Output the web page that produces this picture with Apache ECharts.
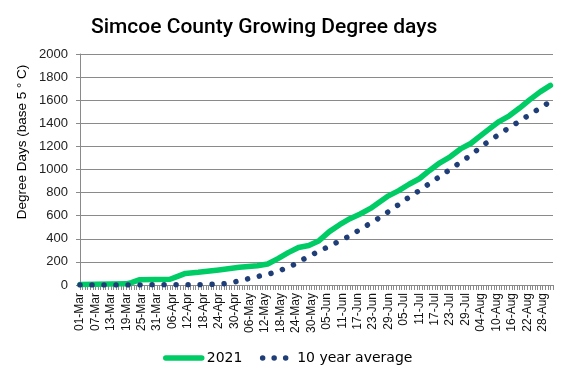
<!DOCTYPE html>
<html>
<head>
<meta charset="utf-8">
<script src="https://cdn.jsdelivr.net/npm/echarts@6/dist/echarts.min.js"></script>
<style>
html,body{margin:0;padding:0;background:#fff;}
#chart{width:568px;height:378px;}
</style>
</head>
<body>
<div id="chart"></div>
<script>
// ---- data ----
const monthNames = ['Mar','Apr','May','Jun','Jul','Aug','Sep'];
const monthLengths = [31,30,31,30,31,31,1];

const yTicks = [0,200,400,600,800,1000,1200,1400,1600,1800,2000];

const gdd2021Dates = ['01-Mar','19-Mar','21-Mar','24-Mar','05-Apr','08-Apr','11-Apr','16-Apr','24-Apr','02-May','09-May','13-May','17-May','21-May','25-May','29-May','02-Jun','06-Jun','10-Jun','14-Jun','18-Jun','22-Jun','25-Jun','29-Jun','03-Jul','07-Jul','11-Jul','15-Jul','19-Jul','23-Jul','27-Jul','31-Jul','03-Aug','07-Aug','11-Aug','15-Aug','19-Aug','23-Aug','27-Aug','31-Aug'];
const gdd2021Values = [5,10,20,45,50,75,100,110,130,153,167,182,228,280,325,342,384,462,522,574,615,663,710,772,817,872,920,992,1058,1110,1178,1225,1278,1348,1415,1465,1532,1605,1672,1728];

const avgDates = ['01-Mar','15-Apr','20-Apr','26-Apr','30-Apr','05-May','10-May','14-May','18-May','23-May','27-May','31-May','04-Jun','08-Jun','12-Jun','16-Jun','20-Jun','24-Jun','28-Jun','02-Jul','06-Jul','10-Jul','14-Jul','18-Jul','22-Jul','26-Jul','30-Jul','02-Aug','05-Aug','09-Aug','13-Aug','17-Aug','21-Aug','25-Aug','29-Aug','31-Aug'];
const avgValues = [0,2,5,11,26,52,78,99,127,174,224,271,314,359,402,454,509,561,620,681,745,803,864,925,986,1047,1108,1160,1214,1274,1334,1390,1448,1504,1560,1588];

// ---- build ----
const categories = [];
monthNames.forEach((m, k) => {
  for (let d = 1; d <= monthLengths[k]; d++) {
    categories.push((d < 10 ? '0' : '') + d + '-' + m);
  }
});
const pairs = (ds, vs) => ds.map((d, i) => [d, vs[i]]);

const chart = echarts.init(document.getElementById('chart'), null, {renderer: 'canvas'});
const gridColor = '#8a8a8a';
chart.setOption({
  animation: false,
  backgroundColor: '#ffffff',
  title: {
    text: 'Simcoe County Growing Degree days',
    left: 86, top: 12,
    textStyle: {fontFamily: 'Roboto', fontSize: 21, fontWeight: 500, color: '#000'}
  },
  legend: {
    left: 158, top: 346,
    itemWidth: 36, itemHeight: 12, itemGap: 11,
    itemStyle: {opacity: 0},
    lineStyle: {width: 5.5, cap: 'round'},
    textStyle: {fontFamily: 'DejaVu Sans', fontSize: 14, color: '#000'},
    data: [
      {name: '2021', lineStyle: {width: 5.5, cap: 'round'}},
      {name: '10 year average', lineStyle: {width: 5.5, cap: 'round', type: [0.01, 11.5], dashOffset: 5}}
    ]
  },
  grid: {left: 80, right: 15, top: 54, bottom: 93},
  xAxis: {
    type: 'category',
    data: categories,
    boundaryGap: false,
    axisLine: {lineStyle: {color: gridColor, width: 1}},
    axisTick: {show: true, interval: 0, length: 5, lineStyle: {color: gridColor}},
    axisLabel: {interval: 5, rotate: 90, margin: 8, fontFamily: 'Liberation Sans', fontSize: 12, color: '#111'},
    splitLine: {show: false}
  },
  yAxis: {
    type: 'value',
    min: 0, max: 2000, interval: 200,
    axisLine: {show: true, lineStyle: {color: gridColor}},
    axisTick: {show: true, length: 4, lineStyle: {color: gridColor}},
    axisLabel: {margin: 12, fontFamily: 'Liberation Sans', fontSize: 13, color: '#222',
      formatter: v => yTicks.indexOf(v) >= 0 ? String(v) : ''},
    splitLine: {lineStyle: {color: gridColor, width: 1}}
  },
  graphic: [{
    type: 'text',
    x: 22, y: 142,
    rotation: Math.PI / 2,
    style: {text: 'Degree Days (base 5 ° C)', fontFamily: 'Liberation Sans', fontSize: 13.5, fill: '#000',
      textAlign: 'center', textVerticalAlign: 'middle'}
  }],
  series: [
    {
      name: '2021', type: 'line',
      data: pairs(gdd2021Dates, gdd2021Values),
      symbol: 'none',
      lineStyle: {color: '#00cc66', width: 5.5, cap: 'round', join: 'round'},
      itemStyle: {color: '#00cc66'},
      z: 3
    },
    {
      name: '10 year average', type: 'line',
      data: pairs(avgDates, avgValues),
      symbol: 'none',
      lineStyle: {color: '#1f3e78', width: 5.5, type: [0.01, 12], cap: 'round', join: 'round'},
      itemStyle: {color: '#1f3e78'},
      z: 4
    }
  ]
});
</script>
</body>
</html>
